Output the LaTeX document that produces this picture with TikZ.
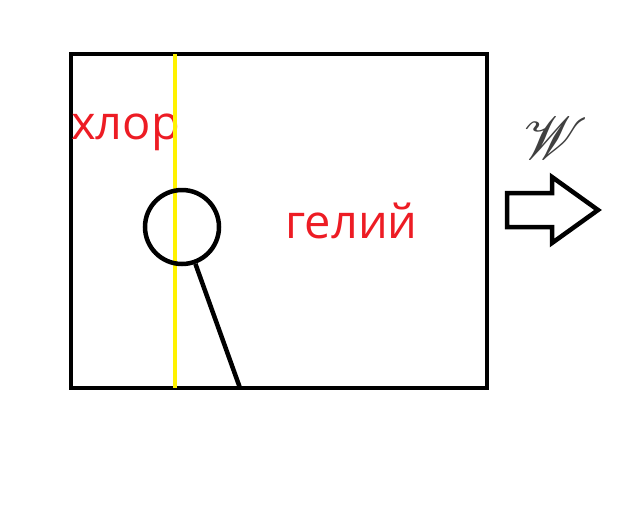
\documentclass[tikz,border=0pt]{standalone}
\usepackage{fontspec}
\setmainfont{Open Sans}
\usepackage{mathrsfs}
\definecolor{paintred}{RGB}{237,28,36}
\definecolor{paintyellow}{RGB}{255,242,0}
\tikzset{
  blk/.style={line width=4.5pt, draw=black, line join=miter},
  lbl/.style={text=paintred, font=\fontsize{47}{50}\selectfont, inner sep=0pt, anchor=base west},
}
\begin{document}
\begin{tikzpicture}[x=1pt,y=-1pt]
\useasboundingbox (0,0) rectangle (640,512);
% container box
\draw[blk] (71,54) rectangle (487,388);
\coordinate (stickbot) at (240,388);
% labels
\node[lbl] (chlor) at (71,139) {хлор};
\node[lbl] (helium) at (285,238) {гелий};
% yellow line
\coordinate (ytop) at (175,54);
\coordinate (ybot) at (175,388);
\draw[paintyellow, line width=4pt] (ytop) -- (ybot);
% circle and stick
\node[blk, circle, minimum size=74pt, inner sep=0pt] (ball) at (182,227) {};
\draw[blk] (ball.-70) -- (stickbot);
% W and arrow
\node[text=black!75, inner sep=0pt, scale=6] (w) at (556,138) {$\mathscr{W}$};
\draw[blk] (507,193) -- (552,193) -- (552,177) -- (598,210) -- (552,243) -- (552,227) -- (507,227) -- cycle;
\end{tikzpicture}
\end{document}
